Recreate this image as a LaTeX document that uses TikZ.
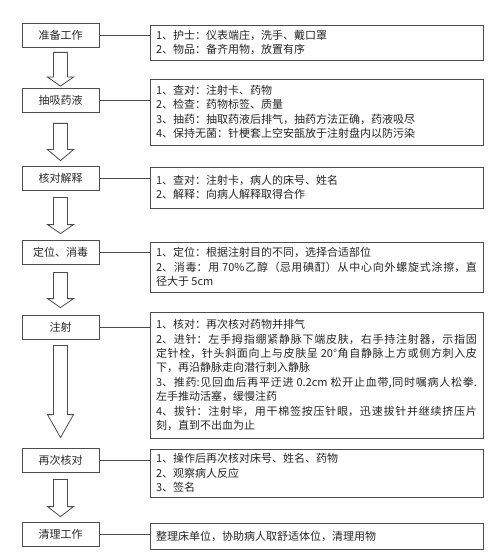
\documentclass[tikz,border=0pt]{standalone}
\usepackage{fontspec}
\setmainfont{Noto Sans CJK SC}
\usetikzlibrary{calc}
\XeTeXlinebreaklocale "zh"
\XeTeXlinebreakskip=0pt plus 2pt

\tikzset{
  stage/.style={draw=black!70, line width=0.8pt, minimum width=77pt, minimum height=24pt,
    inner sep=0pt, font=\fontsize{11}{14}\selectfont, text=black!85},
  detail/.style={draw=black!70, line width=0.8pt, text width=321pt, inner xsep=6pt, inner ysep=0pt,
    align=justify, font=\fontsize{11}{14.4}\selectfont, text=black!85},
  link/.style={draw=black!70, line width=0.8pt},
  flowarrow/.style={draw=black!70, line width=0.8pt, fill=white}
}

% hollow arrow between two stages: from, to, top gap, bottom gap, head length
\newcommand\flowarrow[5]{%
  \draw[flowarrow] let \p1=(#1.south), \p2=(#2.north) in
    (\x1-7pt,\y1-#3pt) -- (\x1-7pt,\y2+#4pt+#5pt) -- (\x1-13pt,\y2+#4pt+#5pt)
    -- (\x1,\y2+#4pt) -- (\x1+13pt,\y2+#4pt+#5pt) -- (\x1+7pt,\y2+#4pt+#5pt)
    -- (\x1+7pt,\y1-#3pt) -- cycle;}

\begin{document}
\begin{tikzpicture}[x=1pt, y=1pt]
  \useasboundingbox (0,0) rectangle (500,-556);

  % stages
  \node [stage] (prep)    at (60.5,-35)    {准备工作};
  \node [stage] (draw)    at (60.5,-100)   {抽吸药液};
  \node [stage] (check)   at (60.5,-178.5) {核对解释};
  \node [stage] (site)    at (60.5,-252)   {定位、消毒};
  \node [stage] (inject)  at (60.5,-327)   {注射};
  \node [stage] (recheck) at (60.5,-460.5) {再次核对};
  \node [stage] (clean)   at (60.5,-534)   {清理工作};

  % details
  \node [detail, minimum height=35pt] (prepd) at (316.5,-42.5)
    {1、护士：仪表端庄，洗手、戴口罩\\
     2、物品：备齐用物，放置有序};
  \node [detail, minimum height=66pt] (drawd) at (316.5,-112)
    {1、查对：注射卡、药物\\
     2、检查：药物标签、质量\\
     3、抽药：抽取药液后排气，抽药方法正确，药液吸尽\\
     4、保持无菌：针梗套上空安瓿放于注射盘内以防污染};
  \node [detail, minimum height=41pt] (checkd) at (316.5,-187.5)
    {1、查对：注射卡，病人的床号、姓名\\
     2、解释：向病人解释取得合作};
  \node [detail, minimum height=50pt] (sited) at (316.5,-267)
    {1、定位：根据注射目的不同，选择合适部位\\
     2、消毒：用 70\%乙醇（忌用碘酊）从中心向外螺旋式涂擦，直\linebreak
     径大于 5cm};
  \node [detail, minimum height=126pt] (injectd) at (316.5,-375)
    {1、核对：再次核对药物并排气\\
     2、进针：左手拇指绷紧静脉下端皮肤，右手持注射器，示指固\linebreak
     定针栓，针头斜面向上与皮肤呈 20°角自静脉上方或侧方刺入皮\linebreak
     下，再沿静脉走向潜行刺入静脉\\
     3、推药:见回血后再平迂进 0.2cm 松开止血带,同时嘱病人松拳.\linebreak
     左手推动活塞，缓慢注药\\
     4、拔针：注射毕，用干棉签按压针眼，迅速拔针并继续挤压片\linebreak
     刻，直到不出血为止};
  \node [detail, minimum height=48pt] (recheckd) at (316.5,-473)
    {1、操作后再次核对床号、姓名、药物\\
     2、观察病人反应\\
     3、签名};
  \node [detail, minimum height=26pt] (cleand) at (316.5,-536)
    {整理床单位，协助病人取舒适体位，清理用物};

  % links
  \foreach \s in {prep, draw, check, site, inject, recheck, clean}
    \draw [link] (\s.east) -- (\s.east -| \s d.west);

  % arrows
  \flowarrow{prep}{draw}{5}{1.5}{9}
  \flowarrow{draw}{check}{11}{5.5}{11}
  \flowarrow{check}{site}{6.5}{6}{9}
  \flowarrow{site}{inject}{8}{7}{9}
  \flowarrow{inject}{recheck}{6}{10.5}{23}
  \flowarrow{recheck}{clean}{6.5}{5}{10}
\end{tikzpicture}
\end{document}
